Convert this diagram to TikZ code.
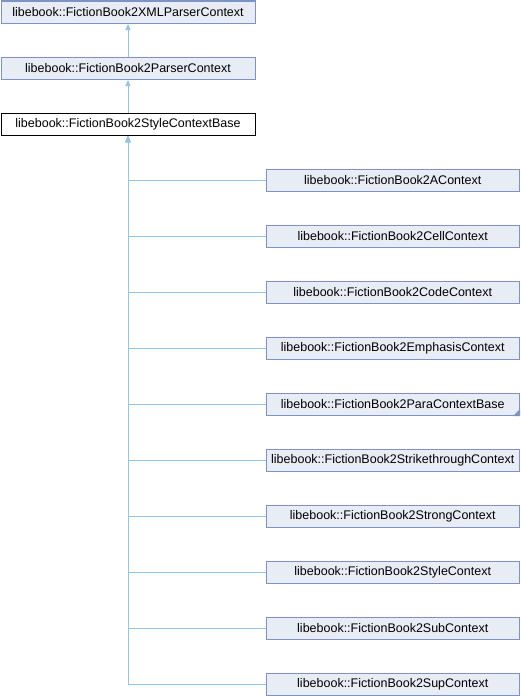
\documentclass[tikz,border=0pt]{standalone}
\usepackage{fontspec}
\setmainfont{Liberation Sans}
\usetikzlibrary{arrows.meta}
\definecolor{boxfill}{HTML}{E8ECF5}
\definecolor{boxline}{HTML}{7D93C3}
\definecolor{edgecol}{HTML}{95C5E6}
\tikzset{
  cls/.style={draw=boxline, fill=boxfill, line width=1pt, rectangle, inner sep=0pt,
    minimum height=22.5pt, anchor=north west, font=\fontsize{12.5}{14}\selectfont},
  topbox/.style={cls, minimum width=254pt},
  childbox/.style={cls, minimum width=253.5pt},
  cur/.style={cls, draw=black, fill=white, minimum width=254pt},
  inh/.style={draw=edgecol, line width=1pt, -{Triangle[length=6pt,width=5pt]}},
}
\begin{document}
\begin{tikzpicture}[x=1pt,y=-1pt]
\useasboundingbox (0,0) rectangle (520,696);
\node[topbox] (xml) at (0.5,0.5) {libebook::FictionBook2XMLParserContext};
\node[topbox] (parser) at (0.5,56.5) {libebook::FictionBook2ParserContext};
\node[cur] (base) at (0.5,112.5) {libebook::FictionBook2StyleContextBase};
\node[childbox] (a) at (265.5,168.5) {libebook::FictionBook2AContext};
\node[childbox] (cell) at (265.5,224.5) {libebook::FictionBook2CellContext};
\node[childbox] (code) at (265.5,280.5) {libebook::FictionBook2CodeContext};
\node[childbox] (emph) at (265.5,336.5) {libebook::FictionBook2EmphasisContext};
\node[childbox] (para) at (265.5,392.5) {libebook::FictionBook2ParaContextBase};
\node[childbox] (strike) at (265.5,448.5) {libebook::FictionBook2StrikethroughContext};
\node[childbox] (strong) at (265.5,504.5) {libebook::FictionBook2StrongContext};
\node[childbox] (style) at (265.5,560.5) {libebook::FictionBook2StyleContext};
\node[childbox] (sub) at (265.5,616.5) {libebook::FictionBook2SubContext};
\node[childbox] (sup) at (265.5,672.5) {libebook::FictionBook2SupContext};
\fill[boxline] (para.south east) -- ++(0,-7) -- ++(-7,7) -- cycle;
\draw[inh] (parser.north) -- (xml.south);
\draw[inh] (base.north) -- (parser.south);
\foreach \c in {a,cell,code,emph,para,strike,strong,style,sub,sup}{
  \draw[inh] (\c.west) -| (base.south);
}
\end{tikzpicture}
\end{document}
